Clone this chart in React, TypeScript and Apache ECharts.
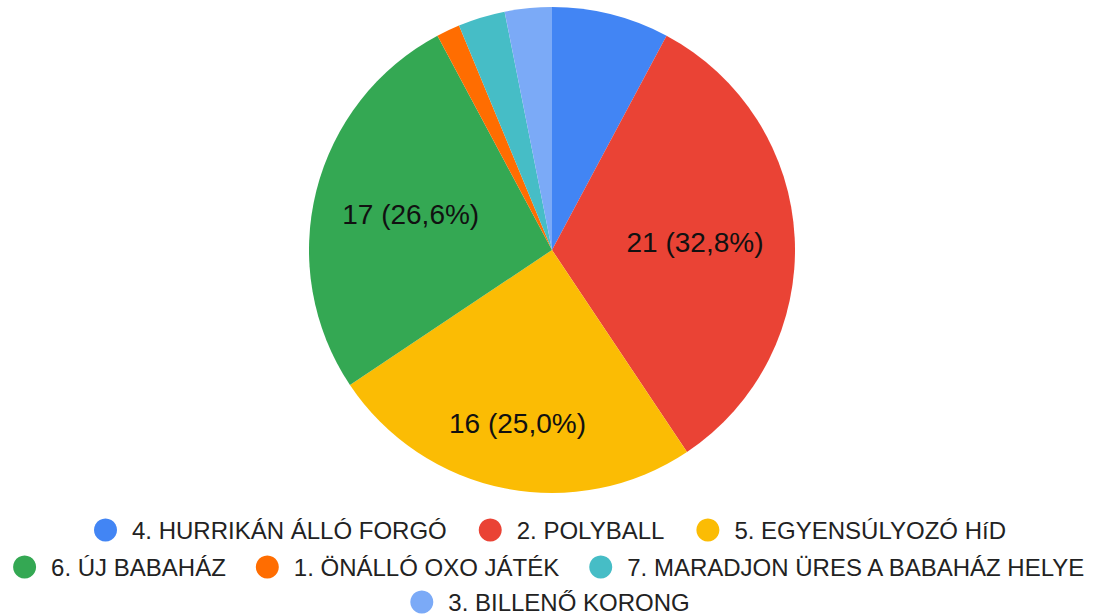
import React, { useEffect, useRef } from "react";
import * as echarts from "echarts";

const categories = [
  "4. HURRIKÁN ÁLLÓ FORGÓ",
  "2. POLYBALL",
  "5. EGYENSÚLYOZÓ HíD",
  "6. ÚJ BABAHÁZ",
  "1. ÖNÁLLÓ OXO JÁTÉK",
  "7. MARADJON ÜRES A BABAHÁZ HELYE",
  "3. BILLENŐ KORONG",
];
const values = [5, 21, 16, 17, 1, 2, 2];
const colors = ["#4285F4", "#EA4335", "#FBBC04", "#34A853", "#FF6D01", "#46BDC6", "#7BAAF7"];
const legendRows = [
  [categories[0], categories[1], categories[2]],
  [categories[3], categories[4], categories[5]],
  [categories[6]],
];

// layout constants
const CX = 552;
const CY = 250;
const R = 243;
const labelRadiusFactor = [1.17, 1.15, 1.42, 1.17, 1.17, 1.17, 1.17];
const legendTops = [518, 555, 590];
const legendGaps = [32, 30, 30];
const FONT = "Arial, 'Liberation Sans', Helvetica, sans-serif";

export default function App() {
  const ref = useRef<HTMLDivElement>(null);
  useEffect(() => {
    document.body.style.margin = "0";
    if (!ref.current) return;
    const chart = echarts.init(ref.current, null, { renderer: "svg" });
    const total = values.reduce((a, b) => a + b, 0);
    const data = categories.map((name, i) => ({
      name,
      value: values[i],
      itemStyle: { color: colors[i] },
      label: { show: values[i] / total >= 0.1 },
    }));
    chart.setOption({
      animation: false,
      backgroundColor: "#ffffff",
      legend: legendRows.map((row, i) => ({
        data: row,
        top: legendTops[i],
        left: "center",
        orient: "horizontal",
        padding: 0,
        icon: "circle",
        itemWidth: 23,
        itemHeight: 23,
        itemGap: legendGaps[i],
        selectedMode: false,
        textStyle: {
          fontFamily: FONT,
          fontSize: 24,
          color: "#222222",
          padding: [0, 0, 0, 10],
        },
      })),
      series: [
        {
          type: "pie",
          center: [CX, CY],
          radius: R,
          startAngle: 90,
          clockwise: true,
          avoidLabelOverlap: false,
          itemStyle: { borderWidth: 0 },
          label: {
            position: "inside",
            fontFamily: FONT,
            fontSize: 28,
            color: "#111111",
            formatter: (p: any) =>
              `${p.value} (${((p.value / total) * 100).toFixed(1).replace(".", ",")}%)`,
          },
          labelLine: { show: false },
          labelLayout: (params: any) => {
            const r = params.labelRect;
            const f = labelRadiusFactor[params.dataIndex] ?? 1;
            const lx = r.x + r.width / 2;
            const ly = r.y + r.height / 2;
            return { dx: (lx - CX) * (f - 1), dy: (ly - CY) * (f - 1) };
          },
          emphasis: { disabled: true },
          data,
        },
      ],
    });
    return () => chart.dispose();
  }, []);
  return <div ref={ref} style={{ width: 1100, height: 616 }} />;
}
